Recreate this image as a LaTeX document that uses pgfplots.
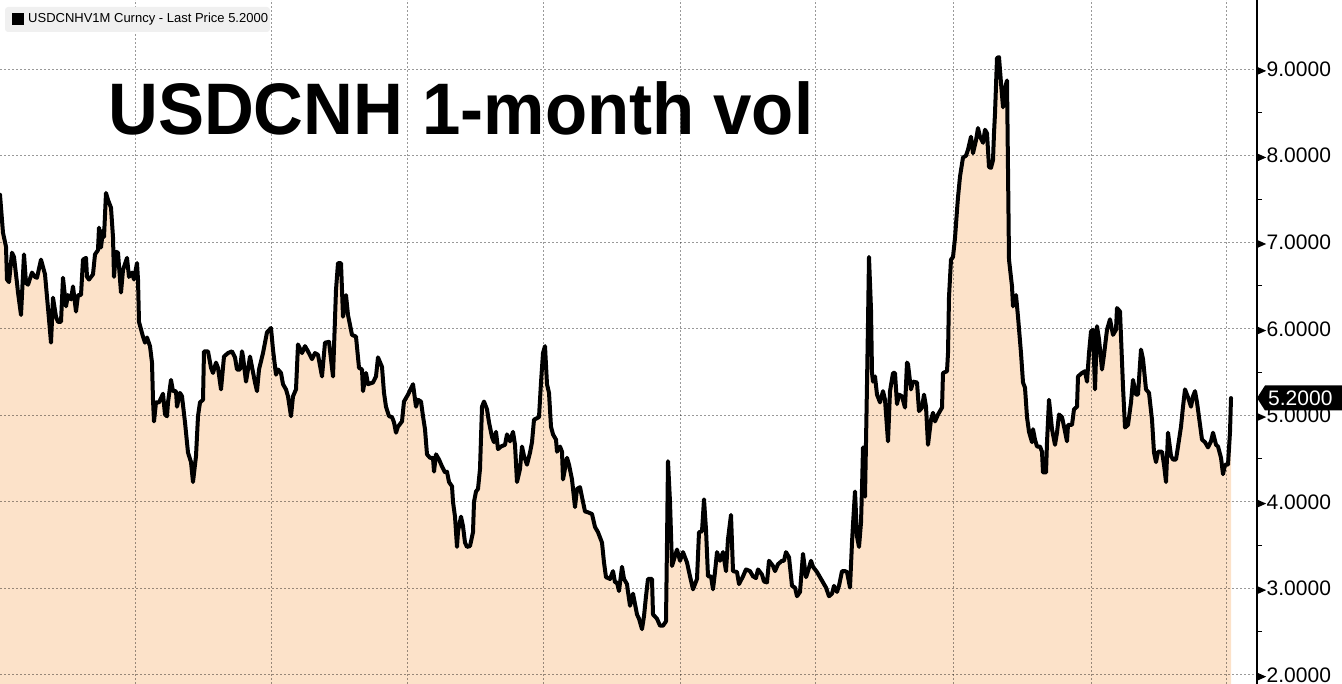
\documentclass[border=0pt]{standalone}
\usepackage{pgfplots}
\pgfplotsset{compat=1.18}
\usepackage{pgfplotstable}
\usepackage{fontspec}
\setmainfont{Liberation Sans}
\definecolor{peach}{RGB}{252,226,201}
\definecolor{legbg}{RGB}{240,240,240}

\pgfplotstableread{
x y
0 7.55
3 7.11
6 6.95
7 6.57
9 6.54
12 6.88
14 6.83
17 6.53
18 6.42
21 6.16
24 6.86
26 6.53
28 6.51
32 6.65
35 6.60
37 6.59
41 6.80
45 6.63
47 6.37
49 6.11
51 5.84
53 6.36
56 6.14
58 6.08
61 6.08
63 6.59
66 6.26
68 6.39
71 6.34
73 6.49
76 6.20
78 6.39
81 6.39
83 6.80
86 6.82
87 6.60
89 6.57
93 6.63
95 6.86
98 6.91
99 7.17
101 6.94
103 7.14
104 7.06
106 7.57
108 7.49
111 7.40
113 7.06
114 6.60
116 6.89
118 6.88
121 6.42
123 6.68
127 6.82
129 6.60
132 6.65
134 6.57
137 6.76
138 6.57
139 6.08
143 5.91
145 5.84
147 5.90
150 5.80
152 5.61
153 5.18
154 4.93
156 5.15
159 5.15
163 5.25
165 5.01
167 4.99
168 5.15
171 5.41
173 5.28
176 5.28
177 5.10
180 5.26
182 5.22
185 4.92
188 4.57
191 4.46
193 4.23
196 4.53
198 4.99
200 5.15
203 5.18
204 5.74
208 5.74
211 5.55
213 5.49
216 5.61
218 5.55
221 5.30
224 5.68
228 5.72
232 5.74
235 5.67
237 5.53
240 5.53
242 5.74
243 5.68
246 5.39
248 5.53
250 5.68
252 5.56
255 5.38
257 5.28
259 5.53
263 5.72
267 5.96
271 6.01
273 5.76
276 5.47
278 5.53
281 5.49
283 5.36
286 5.30
288 5.22
291 4.99
293 5.22
296 5.30
298 5.82
302 5.72
305 5.80
308 5.74
312 5.65
315 5.72
318 5.70
322 5.45
325 5.84
329 5.85
333 5.45
336 6.45
338 6.76
341 6.76
343 6.14
346 6.39
348 6.16
352 5.93
356 5.91
359 5.55
362 5.53
363 5.28
366 5.49
368 5.36
373 5.38
376 5.45
378 5.67
382 5.56
384 5.26
386 5.10
389 4.99
392 4.98
394 4.92
396 4.80
398 4.87
402 4.93
404 5.16
408 5.24
413 5.36
416 5.10
418 5.18
421 5.16
423 4.99
425 4.84
427 4.55
430 4.51
433 4.51
434 4.35
436 4.55
439 4.49
442 4.41
445 4.34
447 4.35
449 4.23
452 4.18
453 4.00
455 3.83
457 3.48
458 3.66
461 3.83
463 3.72
465 3.53
467 3.48
470 3.49
473 3.65
474 4.00
476 4.12
478 4.15
480 4.38
482 5.10
484 5.16
487 5.07
489 4.92
492 4.75
494 4.69
496 4.81
498 4.61
501 4.64
505 4.66
507 4.78
510 4.70
513 4.81
515 4.66
517 4.23
520 4.38
522 4.64
524 4.53
527 4.43
530 4.57
532 4.69
534 4.95
539 4.98
541 5.38
543 5.72
545 5.80
547 5.36
549 5.26
551 4.87
553 4.78
556 4.72
557 4.58
560 4.64
562 4.58
563 4.26
567 4.51
569 4.43
572 4.26
575 3.94
577 4.15
580 4.17
583 4.00
585 3.89
588 3.88
592 3.86
595 3.71
598 3.65
602 3.53
604 3.30
606 3.13
610 3.11
613 3.20
615 3.07
617 3.07
619 2.97
622 3.25
624 3.11
627 3.05
628 2.96
630 2.80
633 2.94
635 2.82
637 2.70
639 2.65
642 2.53
644 2.68
646 2.91
648 3.11
652 3.11
653 2.70
657 2.65
660 2.57
663 2.57
666 2.62
667 3.53
668 4.47
670 4.00
672 3.26
677 3.45
680 3.32
683 3.42
687 3.30
690 3.14
693 2.99
697 3.11
699 3.65
702 3.66
704 4.03
706 3.68
708 3.14
711 3.14
713 2.99
715 3.19
717 3.42
720 3.32
723 3.42
726 3.20
728 3.57
731 3.85
733 3.20
737 3.19
739 3.05
743 3.14
746 3.22
750 3.20
753 3.14
756 3.12
758 3.22
762 3.16
764 3.08
767 3.07
769 3.32
773 3.26
775 3.20
778 3.28
782 3.32
784 3.32
786 3.42
789 3.36
792 3.03
795 3.01
797 2.91
800 2.96
803 3.40
806 3.13
808 3.20
811 3.32
813 3.25
817 3.19
820 3.13
823 3.07
826 3.01
829 2.91
832 2.94
834 3.03
837 2.96
839 3.03
842 3.20
845 3.20
847 3.19
850 3.01
852 3.53
853 3.74
855 4.12
857 3.60
859 3.48
861 3.76
862 4.15
863 4.63
865 4.06
866 4.69
867 5.36
868 6.07
869 6.83
871 6.22
872 5.49
873 5.39
875 5.45
877 5.24
880 5.15
883 5.28
885 5.18
888 4.70
890 5.28
893 5.49
895 5.49
897 5.13
899 5.24
902 5.22
905 5.09
907 5.61
908 5.59
911 5.30
913 5.39
917 5.38
919 5.05
922 5.09
924 5.24
926 5.10
928 4.66
931 4.95
933 5.03
935 4.93
938 5.01
942 5.09
943 5.49
947 5.51
948 5.72
949 6.37
951 6.80
953 6.83
955 7.05
957 7.37
958 7.52
960 7.76
963 7.98
966 8.00
968 8.07
971 8.22
973 8.03
976 8.18
978 8.32
980 8.22
983 8.15
985 8.30
987 8.26
989 7.87
991 7.86
993 7.95
994 8.26
995 8.49
997 9.13
999 9.14
1001 8.84
1003 8.56
1005 8.78
1007 8.87
1008 7.84
1009 6.80
1012 6.49
1013 6.26
1016 6.39
1018 6.14
1021 5.72
1023 5.38
1025 5.32
1027 4.98
1029 4.81
1032 4.69
1033 4.84
1035 4.72
1037 4.64
1040 4.64
1042 4.58
1043 4.34
1046 4.34
1047 4.69
1049 5.18
1052 4.84
1055 4.66
1057 4.80
1059 5.01
1062 4.98
1064 4.87
1067 4.70
1068 4.89
1072 4.89
1074 5.07
1077 5.10
1078 5.45
1082 5.49
1085 5.51
1087 5.39
1089 5.72
1091 5.97
1093 5.99
1095 5.30
1097 6.03
1099 5.88
1102 5.53
1104 5.70
1107 5.99
1110 6.11
1113 5.93
1116 5.99
1117 6.24
1120 6.20
1123 5.33
1125 4.86
1128 4.89
1131 5.15
1133 5.41
1136 5.24
1138 5.24
1141 5.76
1143 5.65
1146 5.30
1149 5.26
1152 4.95
1154 4.57
1156 4.46
1158 4.58
1162 4.58
1164 4.43
1166 4.23
1168 4.80
1171 4.53
1173 4.49
1176 4.49
1178 4.64
1181 4.87
1183 5.10
1185 5.30
1188 5.21
1191 5.10
1193 5.22
1195 5.28
1197 5.15
1199 4.98
1202 4.72
1205 4.69
1208 4.63
1211 4.70
1213 4.80
1216 4.66
1218 4.64
1221 4.51
1223 4.32
1225 4.43
1228 4.43
1230 4.81
1231 5.20
}\voldata

\begin{document}
\begin{tikzpicture}[x=1pt,y=1pt]
% legend box (drawn first so grid shows over it)
\fill[legbg, rounded corners=3pt] (5,652) rectangle (270,677);
\fill[black] (12,659) rectangle (24,671);
\node[anchor=west, inner sep=0pt, font=\fontsize{13}{15}\selectfont] at (28,665) {USDCNHV1M Curncy - Last Price 5.2000};
\begin{axis}[
  at={(0,0)}, anchor=south west,
  scale only axis, width=1257pt, height=684pt,
  xmin=0, xmax=1257, ymin=1.896, ymax=9.80,
  axis y line*=right, axis x line*=bottom,
  x axis line style={draw=none},
  y axis line style={-, black, line width=1.2pt},
  xtick={135,271,407,543,680,815,953,1091,1226}, xticklabels={},
  x tick style={draw=none},
  ytick={2,3,4,5,6,7,8,9},
  minor y tick num=1,
  xmajorgrids, ymajorgrids,
  grid style={black, opacity=0.4, line width=1pt, dash pattern=on 2pt off 2pt},
  major tick length=0pt, minor tick length=5pt, tick align=outside,
  y tick style={black, line width=1pt},
  /pgf/number format/assume math mode=true,
  yticklabel style={anchor=west, inner sep=0pt, font=\fontsize{21}{24}\selectfont},
  yticklabel={\tikz[baseline=-0.5ex]\fill (0pt,-4pt)--(9pt,0pt)--(0pt,4pt)--cycle;\hspace{0.5pt}\pgfmathprintnumber[fixed,fixed zerofill,precision=4]{\tick}},
  set layers,
]
\addplot[fill=peach, draw=none, on layer=axis background] table[x=x,y=y]{\voldata} \closedcycle;
\addplot[black, line width=4pt, line join=round, line cap=round] table[x=x,y=y]{\voldata};
\end{axis}
% title
\node[anchor=base west, inner sep=0pt, font=\fontsize{73}{80}\selectfont\bfseries] at (108,549) {\scalebox{0.945}[1]{USDCNH 1-month vol}};
% last price tag
\fill[black] (1257,286) -- (1265,298.5) -- (1342,298.5) -- (1342,273.5) -- (1265,273.5) -- cycle;
\node[white, anchor=west, inner sep=0pt, font=\fontsize{21}{24}\selectfont] at (1268,286) {5.2000};
\pgfresetboundingbox
\useasboundingbox (0,0) rectangle (1342,684);
\end{tikzpicture}
\end{document}
